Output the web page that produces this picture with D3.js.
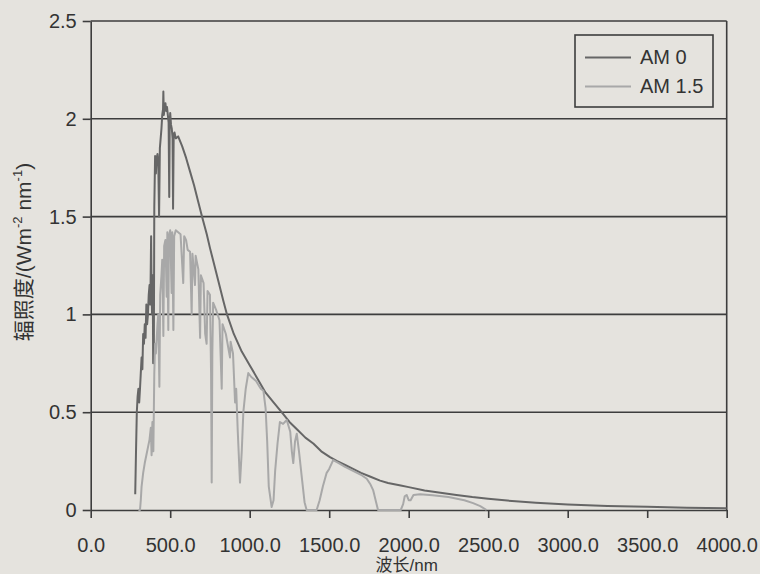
<!DOCTYPE html>
<html>
<head>
<meta charset="utf-8">
<script src="https://cdn.jsdelivr.net/npm/d3@7"></script>
<style>
  html, body { margin: 0; padding: 0; background: #e5e3de; }
  svg { display: block; }
  text { font-family: "Liberation Sans", Arial, "Noto Sans CJK SC", sans-serif; fill: #333; }
</style>
</head>
<body>
<div id="chart"></div>
<script>
//Global Variables
var full_width = 760;
var full_height = 574;
var plot = {left: 90.7, right: 726.7, top: 21, bottom: 510};

var xTicks = [0, 500, 1000, 1500, 2000, 2500, 3000, 3500, 4000];
var yTicks = [0, 0.5, 1, 1.5, 2, 2.5];
var seriesNames = ["AM 0", "AM 1.5"];
var seriesColors = ["#666666", "#a8a8a8"];

// AM 0
var am0Wavelength = [280,285,290,295,300,305,310,315,320,325,330,335,340,345,350,355,360,365,370,375,
  380,383,386,390,393,397,400,405,410,415,420,425,430,435,440,445,450,455,457,460,465,470,475,480,485,
  490,494,497,500,505,510,515,518,522,527,535,550,575,600,625,650,675,700,730,750,775,800,834,857,900,
  950,1000,1050,1100,1150,1211,1250,1300,1350,1400,1450,1505,1550,1600,1650,1700,1760,1820,1870,1950,
  2000,2100,2200,2300,2400,2500,2650,2800,3000,3250,3500,3750,4000];
var am0Irradiance = [0.08,0.30,0.50,0.58,0.62,0.55,0.62,0.70,0.78,0.72,0.90,0.85,0.95,0.88,1.05,0.95,1.00,1.10,1.15,1.05,
  1.40,1.10,1.00,1.20,0.75,0.80,1.55,1.81,1.72,1.80,1.82,1.78,1.50,1.85,1.90,1.95,2.02,2.05,2.14,2.02,2.06,2.08,2.04,2.06,2.02,
  1.98,1.60,1.98,2.03,1.97,1.95,1.90,1.54,1.92,1.93,1.90,1.91,1.86,1.80,1.73,1.66,1.58,1.50,1.41,1.34,1.26,1.18,1.07,1.00,0.90,
  0.81,0.74,0.67,0.60,0.55,0.49,0.45,0.41,0.37,0.34,0.30,0.27,0.25,0.23,0.21,0.19,0.17,0.15,0.138,0.125,
  0.117,0.100,0.088,0.077,0.066,0.057,0.046,0.037,0.028,0.021,0.016,0.012,0.009];

// AM 1.5
var am15Wavelength = [300,310,315,320,330,340,350,360,370,378,383,388,394,400,405,410,420,425,432,437,445,450,457,462,470,
  478,482,488,492,500,509,513,520,525,535,550,565,582,588,600,610,625,635,640,656,660,677,688,693,710,720,729,735,750,757,
  761,765,770,790,810,824,829,850,876,880,895,908,915,925,939,950,960,975,991,1010,1040,1070,1086,1100,1110,1120,1138,
  1150,1160,1175,1190,1210,1233,1255,1265,1274,1285,1296,1310,1330,1345,1358,1421,1440,1460,1484,1500,1525,1560,1600,
  1650,1700,1736,1760,1777,1795,1807,1950,1965,1975,1987,2000,2012,2030,2071,2150,2250,2350,2405,2450,2490];
var am15Irradiance = [0,0,0.05,0.12,0.19,0.24,0.28,0.32,0.36,0.42,0.28,0.45,0.30,0.70,0.85,0.80,0.95,1.00,0.63,1.10,1.20,1.28,0.89,1.35,1.38,
  1.09,1.42,0.92,1.40,1.43,1.11,1.42,0.92,1.40,1.43,1.42,1.41,1.16,1.40,1.38,1.33,1.32,1.00,1.31,1.15,1.30,1.23,0.88,1.20,1.16,0.90,0.85,1.12,1.10,0.70,
  0.14,0.80,1.06,1.02,0.97,0.62,0.95,0.90,0.78,0.86,0.80,0.55,0.62,0.40,0.14,0.30,0.50,0.62,0.70,0.68,0.66,0.62,0.61,0.52,0.35,0.12,0.015,
  0.05,0.20,0.34,0.45,0.44,0.46,0.40,0.30,0.24,0.35,0.39,0.30,0.15,0.04,0,0,0.05,0.12,0.19,0.21,0.255,0.24,0.22,
  0.20,0.18,0.16,0.13,0.10,0.04,0,0,0.03,0.07,0.077,0.05,0.05,0.077,0.08,0.075,0.066,0.05,0.035,0.02,0];


function toPoints(xs, ys){
    var pts = [];
    for(var i=0; i< xs.length; i++){
        pts.push({wl: xs[i], v: ys[i]});
    }
    return pts;
}


function createSpectrumChart(){

    var svg = d3.select("#chart")
                .append("svg")
                .attr("width", full_width)
                .attr("height", full_height);

    var x = d3.scaleLinear().domain([0, 4000]).range([plot.left, plot.right]);
    var y = d3.scaleLinear().domain([0, 2.5]).range([plot.bottom, plot.top]);

    // horizontal grid lines
    svg.append("g")
       .selectAll("line")
       .data(yTicks.filter(d => d > 0))
       .enter()
       .append("line")
       .attr("x1", plot.left).attr("x2", plot.right)
       .attr("y1", d => y(d)).attr("y2", d => y(d))
       .attr("stroke", "#3d3d3d")
       .attr("stroke-width", 1.6);

    // right border
    svg.append("line")
       .attr("x1", plot.right).attr("x2", plot.right)
       .attr("y1", plot.top).attr("y2", plot.bottom)
       .attr("stroke", "#3d3d3d")
       .attr("stroke-width", 1.6);

    var xAxis = svg.append("g")
      .attr("transform", "translate(0," + plot.bottom + ")")
      .attr("class", "x_axis")
      .call(d3.axisBottom(x)
              .tickValues(xTicks)
              .tickSize(8)
              .tickSizeOuter(0)
              .tickFormat(d3.format(".1f")));

    var yAxis = svg.append("g")
      .attr("transform", "translate(" + plot.left + ",0)")
      .attr("class", "y_axis")
      .call(d3.axisLeft(y)
              .tickValues(yTicks)
              .tickSize(8)
              .tickSizeOuter(0)
              .tickFormat(d3.format("")));

    [xAxis, yAxis].forEach(a => {
        a.selectAll("path, line").attr("stroke", "#3d3d3d").attr("stroke-width", 1.6);
        a.selectAll("text").attr("font-size", 20).attr("fill", "#3a3a3a");
    });
    xAxis.selectAll("text").attr("y", 28);
    yAxis.selectAll("text").attr("x", -14);

    // spectra
    var valueline = d3.line()
                      .x(d => x(d.wl))
                      .y(d => y(d.v));

    var series = [toPoints(am0Wavelength, am0Irradiance), toPoints(am15Wavelength, am15Irradiance)];

    series.forEach((s, i) => {
        svg.append("path")
           .datum(s)
           .attr("d", valueline)
           .attr("fill", "none")
           .attr("stroke", seriesColors[i])
           .attr("stroke-width", 2)
           .attr("stroke-linejoin", "round");
    });

    // legend
    var legend = svg.append("g").attr("class", "legend");
    legend.append("rect")
          .attr("x", 575).attr("y", 35)
          .attr("width", 138).attr("height", 72)
          .attr("fill", "none")
          .attr("stroke", "#3d3d3d")
          .attr("stroke-width", 1.6);

    seriesNames.forEach((name, i) => {
        var ly = 57.5 + i * 29;
        legend.append("line")
              .attr("x1", 585).attr("x2", 631)
              .attr("y1", ly).attr("y2", ly)
              .attr("stroke", seriesColors[i])
              .attr("stroke-width", 2.2);
        legend.append("text")
              .attr("x", 640).attr("y", ly + 6.5)
              .attr("font-size", 20)
              .attr("fill", "#333")
              .text(name);
    });

    // axis titles
    svg.append("text")
       .attr("x", (plot.left + plot.right) / 2 - 2)
       .attr("y", 571)
       .attr("text-anchor", "middle")
       .attr("font-size", 17)
       .attr("font-family", "'Noto Sans CJK SC', sans-serif")
       .text("波长/nm");

    var yt = svg.append("text")
       .attr("transform", "translate(31,252) rotate(-90)")
       .attr("text-anchor", "middle")
       .attr("font-size", 21);
    yt.append("tspan").attr("font-family", "'Noto Sans CJK SC', sans-serif").text("辐照度");
    yt.append("tspan").text("/(Wm");
    yt.append("tspan").attr("font-size", 13).attr("dy", -9).text("-2");
    yt.append("tspan").attr("dy", 9).text(" nm");
    yt.append("tspan").attr("font-size", 13).attr("dy", -9).text("-1");
    yt.append("tspan").attr("dy", 9).text(")");
}

createSpectrumChart();
</script>
</body>
</html>
